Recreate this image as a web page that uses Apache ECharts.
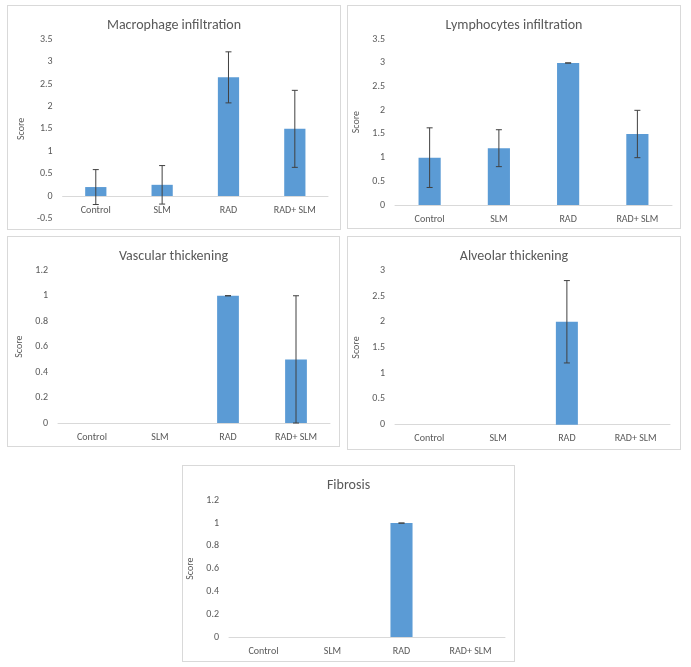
<!DOCTYPE html>
<html>
<head>
<meta charset="utf-8">
<script src="https://cdn.jsdelivr.net/npm/echarts@6/dist/echarts.min.js"></script>
<style>
  html, body { margin: 0; padding: 0; background: #fff; }
  body { width: 691px; height: 667px; position: relative; overflow: hidden; }
  .panel { position: absolute; border: 1px solid #d9d9d9; box-sizing: border-box; background: #fff; }
</style>
</head>
<body>
<div id="p1" class="panel" style="left:7px;top:5px;width:334px;height:225px;"></div>
<div id="p2" class="panel" style="left:347px;top:5px;width:334px;height:224px;"></div>
<div id="p3" class="panel" style="left:7px;top:236px;width:333px;height:211px;"></div>
<div id="p4" class="panel" style="left:347px;top:236px;width:334px;height:214px;"></div>
<div id="p5" class="panel" style="left:182px;top:465px;width:333px;height:197px;"></div>
<script>
// ---- data ----
const categories = ['Control', 'SLM', 'RAD', 'RAD+ SLM'];

const macroTitle = 'Macrophage infiltration';
const macroMean = [0.2, 0.25, 2.65, 1.5];
const macroErr = [0.39, 0.43, 0.57, 0.86];
const macroAxis = [-0.5, 3.5, 0.5];

const lymphTitle = 'Lymphocytes infiltration';
const lymphMean = [1, 1.2, 3, 1.5];
const lymphErr = [0.63, 0.39, 0, 0.5];
const lymphAxis = [0, 3.5, 0.5];

const vascTitle = 'Vascular thickening';
const vascMean = [0, 0, 1, 0.5];
const vascErr = [null, null, 0, 0.5];
const vascAxis = [0, 1.2, 0.2];

const alvTitle = 'Alveolar thickening';
const alvMean = [0, 0, 2, 0];
const alvErr = [null, null, 0.8, null];
const alvAxis = [0, 3, 0.5];

const fibTitle = 'Fibrosis';
const fibMean = [0, 0, 1, 0];
const fibErr = [null, null, 0, null];
const fibAxis = [0, 1.2, 0.2];

const yName = 'Score';

// ---- rendering ----
const FONT = 'Carlito, Calibri, Lato, "Open Sans", sans-serif';
const TEXT = '#595959';
const BAR = '#5B9BD5';
const ERR = '#404040';

function makeChart(id, title, mean, err, axis, grid, nameGap, boundsMode) {
  const el = document.getElementById(id);
  const chart = echarts.init(el);
  const errData = [];
  mean.forEach((m, i) => {
    if (err[i] !== null && err[i] !== undefined) errData.push([i, m - err[i], m + err[i]]);
  });
  if (boundsMode) grid.outerBoundsMode = boundsMode;
  grid.containLabel = false;
  // category axis crosses the value axis at 0 (Excel style)
  const gridH = el.clientHeight - grid.top - grid.bottom;
  const xOffset = -gridH * (0 - axis[0]) / (axis[1] - axis[0]);
  chart.setOption({
    animation: false,
    title: {
      text: title, left: 'center', top: 7,
      textStyle: { fontFamily: FONT, fontSize: 14, fontWeight: 'normal', color: TEXT }
    },
    grid: grid,
    xAxis: {
      type: 'category', data: categories, position: 'bottom', offset: xOffset,
      axisLine: { onZero: false, lineStyle: { color: '#d9d9d9', width: 1 } },
      axisTick: { show: false },
      axisLabel: { color: TEXT, fontFamily: FONT, fontSize: 10, margin: 9, interval: 0 }
    },
    yAxis: {
      type: 'value', min: axis[0], max: axis[1], interval: axis[2],
      name: yName, nameLocation: 'middle', nameGap: nameGap,
      nameTextStyle: { color: TEXT, fontFamily: FONT, fontSize: 10 },
      axisLine: { show: false }, axisTick: { show: false },
      splitLine: { show: false },
      axisLabel: { color: TEXT, fontFamily: FONT, fontSize: 10, margin: 10, showMinLabel: true }
    },
    series: [
      {
        type: 'bar', data: mean, barWidth: '32%',
        itemStyle: { color: BAR }
      },
      {
        type: 'custom', data: errData, z: 10,
        renderItem: function (params, api) {
          const x = api.value(0);
          const lo = api.coord([x, api.value(1)]);
          const hi = api.coord([x, api.value(2)]);
          const cap = 3;
          const style = { stroke: ERR, lineWidth: 1 };
          return {
            type: 'group',
            children: [
              { type: 'line', shape: { x1: lo[0], y1: lo[1], x2: hi[0], y2: hi[1] }, style: style },
              { type: 'line', shape: { x1: hi[0] - cap, y1: hi[1], x2: hi[0] + cap, y2: hi[1] }, style: style },
              { type: 'line', shape: { x1: lo[0] - cap, y1: lo[1], x2: lo[0] + cap, y2: lo[1] }, style: style }
            ]
          };
        }
      }
    ]
  });
}

makeChart('p1', macroTitle, macroMean, macroErr, macroAxis,
  { left: 50, top: 33.3, right: 12, bottom: 10.6 }, 27, null);
makeChart('p2', lymphTitle, lymphMean, lymphErr, lymphAxis,
  { left: 47, top: 33.3, right: 8, bottom: 23 }, 24, 'none');
makeChart('p3', vascTitle, vascMean, vascErr, vascAxis,
  { left: 50, top: 33.3, right: 9, bottom: 23 }, 25, 'none');
makeChart('p4', alvTitle, alvMean, alvErr, alvAxis,
  { left: 47, top: 33.3, right: 10, bottom: 24.3 }, 25, 'none');
makeChart('p5', fibTitle, fibMean, fibErr, fibAxis,
  { left: 46, top: 34.3, right: 9, bottom: 24 }, 25, 'none');
</script>
</body>
</html>
